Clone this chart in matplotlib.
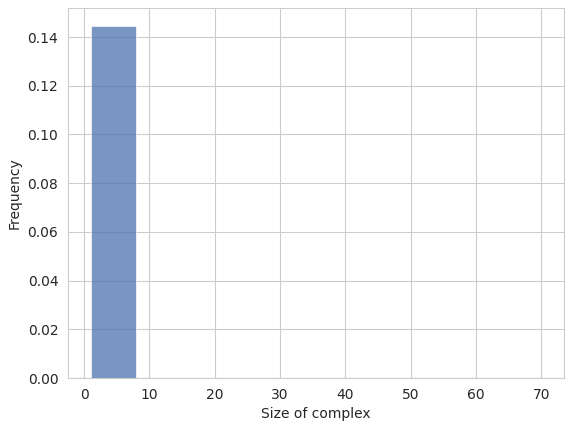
import numpy as np
import matplotlib
matplotlib.use("Agg")
import matplotlib.pyplot as plt
import seaborn as sns

# histogram bins (size of complex) and normalised frequency per bin
bin_edges = np.linspace(1, 70, 11)
frequency = [0.1447, 0.00008, 0.00002, 0.00001, 0.00001, 0.0, 0.0, 0.0, 0.0, 0.00001]

sns.set_style("whitegrid")

fig = plt.figure(figsize=(5.74, 4.33), dpi=100)
ax = fig.add_axes([68 / 574, 55 / 433, 496 / 574, 370 / 433])

centers = (bin_edges[:-1] + bin_edges[1:]) / 2
ax.hist(centers, bins=bin_edges, weights=frequency, color="#4c72b0",
        alpha=0.75, edgecolor="white", linewidth=0.6)

ax.set_xlabel("Size of complex")
ax.set_ylabel("Frequency")

plt.savefig("out.png", dpi=100)
